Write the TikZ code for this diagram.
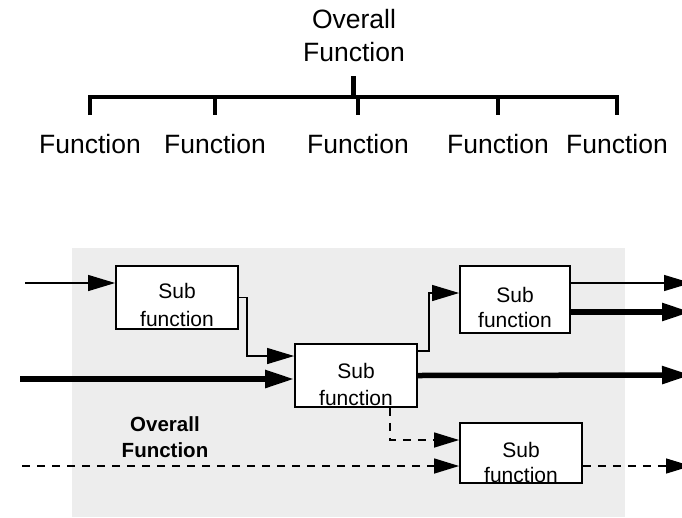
\documentclass[tikz,border=0pt]{standalone}
\usepackage{fontspec}
\setmainfont{Liberation Sans}
\usetikzlibrary{arrows.meta,calc}
\definecolor{panel}{HTML}{EDEDED}
\begin{document}
\begin{tikzpicture}[x=1pt,y=-1pt,
  toptext/.style={inner sep=0pt,anchor=base,font=\fontsize{26.5}{33}\selectfont},
  subtext/.style={inner sep=0pt,anchor=base,font=\fontsize{21}{27}\selectfont},
  boldtext/.style={inner sep=0pt,anchor=base,font=\fontsize{20.5}{26}\selectfont\bfseries},
  tree/.style={line width=4pt,line join=miter},
  subbox/.style={draw,line width=1.8pt,fill=white,inner sep=0pt},
  flow/.style={line width=1.3pt,-{Triangle[length=27pt,width=16pt]}},
  heavy/.style={line width=5.5pt,-{Triangle[length=29pt,width=17pt]}},
  dashflow/.style={line width=1.4pt,dash pattern=on 8pt off 7pt,-{Triangle[length=25pt,width=15pt]}}]
\clip (0,0) rectangle (682,517);
\useasboundingbox (0,0) rectangle (682,517);

% ---- hierarchy of functions ----
\node[toptext] (ov1) at (354,28) {Overall};
\node[toptext] (ov2) at (354,61) {Function};
\node[toptext] (f1) at (90,153) {Function};
\node[toptext] (f2) at (215,153) {Function};
\node[toptext] (f3) at (358,153) {Function};
\node[toptext] (f4) at (498,153) {Function};
\node[toptext] (f5) at (617,153) {Function};
\coordinate (j) at (353,97);

\draw[line width=5pt] (j) -- ++(0,-21);
\draw[tree] ($(f1 |- j)+(0,18)$) -- (f1 |- j) -- (f5 |- j) -- ++(0,18);
\draw[line width=4.6pt] (f2 |- j) -- (f4 |- j);
\foreach \f in {f2,f3,f4}
  \draw[tree] (\f |- j) -- ++(0,18);

% ---- function structure ----
\fill[panel] (72,248) rectangle (625,517);

\node[boldtext] (ovb1) at (165,431) {Overall};
\node[boldtext] (ovb2) at (165,457) {Function};

\node[subbox,minimum width=122pt,minimum height=63pt] (b1) at (177,297.5) {};
\node[subbox,minimum width=122pt,minimum height=63pt] (b2) at (356,375.5) {};
\node[subbox,minimum width=110pt,minimum height=67pt] (b3) at (515,299.5) {};
\node[subbox,minimum width=122pt,minimum height=60pt] (b4) at (521,453) {};

\node[subtext] (b1s) at (177,298) {Sub};
\node[subtext] (b1f) at (177,326) {function};
\node[subtext] (b2s) at (356,378) {Sub};
\node[subtext] (b2f) at (356,405) {function};
\node[subtext] (b3s) at (515,302) {Sub};
\node[subtext] (b3f) at (515,327) {function};
\node[subtext] (b4s) at (521,457) {Sub};
\node[subtext] (b4f) at (521,482) {function};

% free ends and bends
\coordinate (inA) at (25,283);
\coordinate (inB) at (20,379);
\coordinate (inC) at (22,466);
\coordinate (k1) at (247,356);
\coordinate (k2) at (429,293);
\coordinate (k3) at (429,351);
\coordinate (k4) at (390,440);
\coordinate (o1) at (691,283);
\coordinate (o2) at (691,312);
\coordinate (o3) at (691,375);
\coordinate (o4) at (691,466);

\draw[flow] (inA) -- (inA -| b1.west);
\draw[flow] (b1.east) -| (k1) -- (k1 -| b2.west);
\draw[heavy] (inB) -- (inB -| b2.west);
\draw[flow] (k3 -| b2.east) -- (k3) -- (k2) -- (k2 -| b3.west);
\draw[flow] (o1 -| b3.east) -- (o1);
\draw[heavy] (o2 -| b3.east) -- (o2);
\draw[heavy] (b2.east) -- (o3);
\draw[dashflow] (k4 |- b2.south) -- (k4) -- (k4 -| b4.west);
\draw[dashflow] (inC) -- (inC -| b4.west);
\draw[dashflow] (inC -| b4.east) -- (o4);
\end{tikzpicture}
\end{document}
